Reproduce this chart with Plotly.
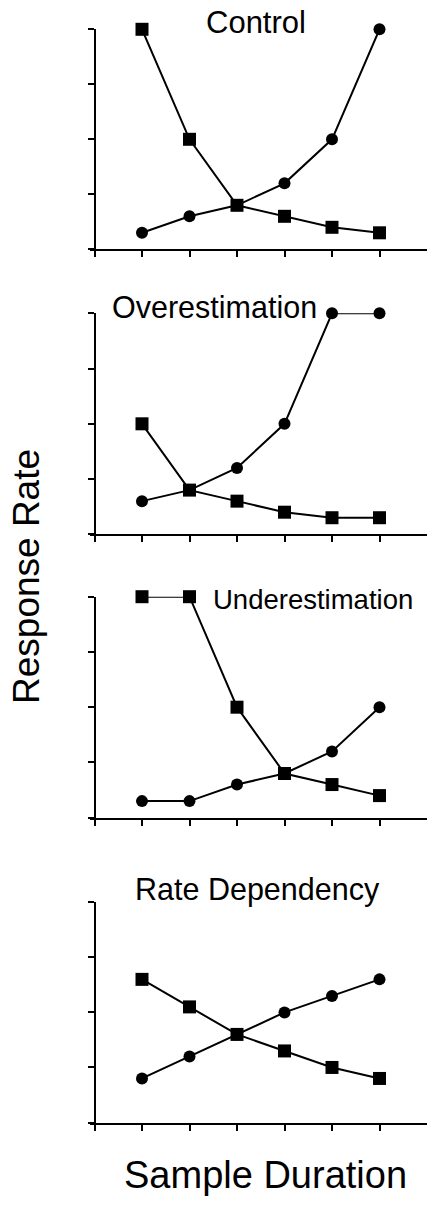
import plotly.graph_objects as go

W, H = 438, 1209

# ---- data ----
durations = [1, 2, 3, 4, 5, 6]
panel_titles = ["Control", "Overestimation", "Underestimation", "Rate Dependency"]
control_squares = [4.0, 2.0, 0.8, 0.6, 0.4, 0.3]
control_circles = [0.3, 0.6, 0.8, 1.2, 2.0, 4.0]
over_squares = [2.0, 0.8, 0.6, 0.4, 0.3, 0.3]
over_circles = [0.6, 0.8, 1.2, 2.0, 4.0, 4.0]
under_squares = [4.0, 4.0, 2.0, 0.8, 0.6, 0.4]
under_circles = [0.3, 0.3, 0.6, 0.8, 1.2, 2.0]
rate_squares = [2.6, 2.1, 1.6, 1.3, 1.0, 0.8]
rate_circles = [0.8, 1.2, 1.6, 2.0, 2.3, 2.6]
x_ticks = [0, 1, 2, 3, 4, 5, 6]
y_ticks = [0, 1, 2, 3, 4]

squares = [control_squares, over_squares, under_squares, rate_squares]
circles = [control_circles, over_circles, under_circles, rate_circles]

# ---- layout geometry (pixels) ----
yaxis_px = 94.5
x_left_px, x_right_px = 90.0, 427.0
unit = (x_right_px - yaxis_px) / 7.0
x_min = -(yaxis_px - x_left_px) / unit
panel_px = [(29.3, 249.3), (313.3, 534.3), (596.7, 817.7), (902.3, 1122.5)]

FONT = "Liberation Sans, Arial, sans-serif"

fig = go.Figure()
layout = dict(
    width=W, height=H, margin=dict(l=0, r=0, t=0, b=0),
    paper_bgcolor="white", plot_bgcolor="white", showlegend=False,
    font=dict(family=FONT, color="black"),
)

for i in range(4):
    n = "" if i == 0 else str(i + 1)
    top, bot = panel_px[i]
    xa = dict(
        domain=[x_left_px / W, x_right_px / W], range=[x_min, 7],
        tickmode="array", tickvals=x_ticks, showticklabels=False,
        ticks="outside", ticklen=6, tickwidth=1.5, tickcolor="black",
        showline=True, linecolor="black", linewidth=2,
        showgrid=False, zeroline=False, anchor="y" + n,
    )
    ya = dict(
        domain=[1 - bot / H, 1 - top / H], range=[0, 4],
        tickmode="array", tickvals=y_ticks, showticklabels=False,
        ticks="outside", ticklen=6, tickwidth=1.5, tickcolor="black",
        showline=True, linecolor="black", linewidth=2,
        showgrid=False, zeroline=False,
        anchor="free", position=yaxis_px / W,
    )
    layout["xaxis" + n] = xa
    layout["yaxis" + n] = ya

    fig.add_trace(go.Scatter(
        x=durations, y=circles[i], mode="lines+markers",
        line=dict(color="black", width=2),
        marker=dict(symbol="circle", size=12, color="black"),
        xaxis="x" + n, yaxis="y" + n, cliponaxis=False,
    ))
    fig.add_trace(go.Scatter(
        x=durations, y=squares[i], mode="lines+markers",
        line=dict(color="black", width=2),
        marker=dict(symbol="square", size=13, color="black"),
        xaxis="x" + n, yaxis="y" + n, cliponaxis=False,
    ))

title_pos = [(204, 23, 31), (110, 306.5, 30.5), (211, 599, 27.5), (133, 890, 30.5)]
annotations = []
for t, (px, py, fs) in zip(panel_titles, title_pos):
    annotations.append(dict(
        text=t, x=px / W, y=1 - py / H, xref="paper", yref="paper",
        xanchor="left", yanchor="middle", showarrow=False,
        font=dict(size=fs, family=FONT, color="black"),
    ))

annotations.append(dict(
    text="Response Rate", x=27 / W, y=1 - 577 / H, xref="paper", yref="paper",
    xanchor="center", yanchor="middle", showarrow=False, textangle=-90,
    font=dict(size=37, family=FONT, color="black"),
))
annotations.append(dict(
    text="Sample Duration", x=265.7 / W, y=1 - 1175 / H, xref="paper", yref="paper",
    xanchor="center", yanchor="middle", showarrow=False,
    font=dict(size=38, family=FONT, color="black"),
))
layout["annotations"] = annotations

fig.update_layout(**layout)
fig.write_html("out.html")
